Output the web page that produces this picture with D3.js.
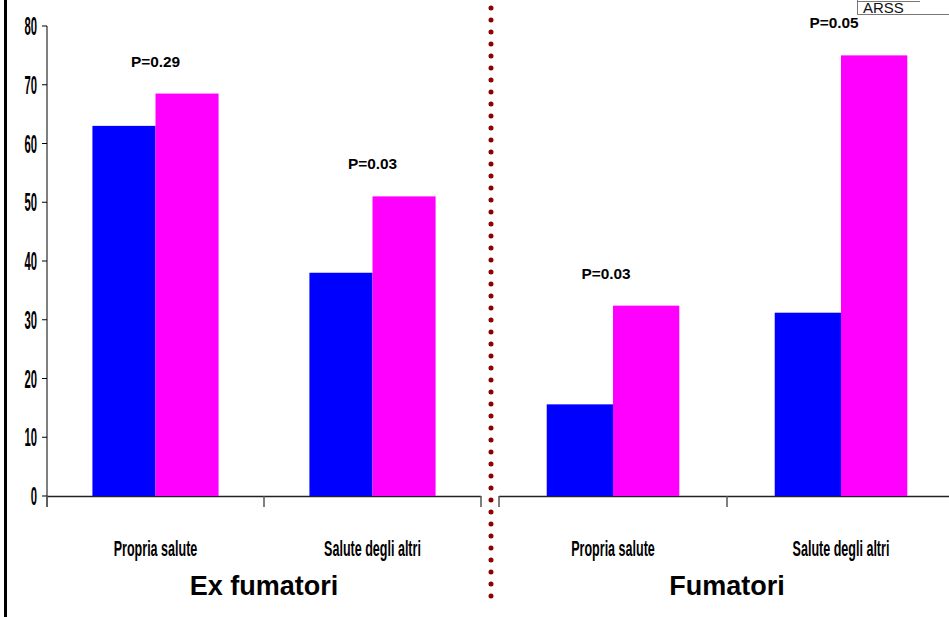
<!DOCTYPE html>
<html>
<head>
<meta charset="utf-8">
<script src="https://cdn.jsdelivr.net/npm/d3@7"></script>
<style>
  body { margin: 0; background: #fff; }
  text { font-family: "Liberation Sans", Arial, sans-serif; }
</style>
</head>
<body>
<div id="chart"></div>
<script>
// data
var groups = ["Ex fumatori", "Fumatori"];
var categories = ["Propria salute", "Salute degli altri"];
var seriesBlue = [[63, 38], [15.6, 31.2]];
var seriesPink = [[68.5, 51], [32.4, 75]];
var pLabels = [["P=0.29", "P=0.03"], ["P=0.03", "P=0.05"]];
var yTicks = [0, 10, 20, 30, 40, 50, 60, 70, 80];

var W = 949, H = 617;
var svg = d3.select('#chart').append('svg')
  .attr('width', W).attr('height', H);

var y = d3.scaleLinear().domain([0, 80]).range([496, 26]);

// squeezed bold text (Arial Narrow look)
function narrowText(parent, tx, ty, size, sx, anchor, str) {
  parent.append('text')
    .attr('transform', 'translate(' + tx + ',' + ty + ') scale(' + sx + ',1)')
    .attr('text-anchor', anchor)
    .attr('font-weight', 'bold')
    .attr('font-size', size + 'px')
    .text(str);
}

// left frame line
svg.append('line')
  .attr('x1', 5.5).attr('x2', 5.5).attr('y1', 0).attr('y2', H)
  .attr('stroke', '#000').attr('stroke-width', 3);

// y axis
var yAxis = svg.append('g').attr('transform', 'translate(47,0)');
yAxis.append('line')
  .attr('x1', 0).attr('x2', 0).attr('y1', y(80)).attr('y2', y(0) + 11)
  .attr('stroke', '#000');
yTicks.forEach(function (t) {
  yAxis.append('line')
    .attr('x1', -5).attr('x2', 0).attr('y1', y(t)).attr('y2', y(t))
    .attr('stroke', '#000');
  narrowText(yAxis, -10, y(t) + 9, 25, 0.45, 'end', t);
});

var panels = [[47, 481], [499, 955]];
var colors = ['#0000ff', '#ff00ff'];

for (var g = 0; g < groups.length; g++) {
  var x = d3.scaleBand().domain(categories).range(panels[g]);
  var sub = d3.scaleBand().domain([0, 1]).range([0, x.bandwidth()]).paddingOuter(0.72).paddingInner(0);

  // baseline
  svg.append('line')
    .attr('x1', panels[g][0]).attr('x2', Math.min(panels[g][1], W))
    .attr('y1', y(0) + 0.5).attr('y2', y(0) + 0.5)
    .attr('stroke', '#222').attr('stroke-width', 1.5);
  var tickXs = [panels[g][0], panels[g][0] + x.bandwidth()];
  if (g == 0) tickXs.push(panels[g][1]);
  tickXs.forEach(function (tx) {
    svg.append('line')
      .attr('x1', tx).attr('x2', tx).attr('y1', y(0)).attr('y2', y(0) + 11)
      .attr('stroke', '#555').attr('stroke-width', 1.5);
  });

  for (var c = 0; c < categories.length; c++) {
    var x0 = x(categories[c]);
    var vals = [seriesBlue[g][c], seriesPink[g][c]];
    vals.forEach(function (v, i) {
      svg.append('rect')
        .attr('x', x0 + sub(i)).attr('y', y(v))
        .attr('width', sub.bandwidth()).attr('height', y(0) - y(v))
        .attr('fill', colors[i]);
    });
    svg.append('text')
      .attr('transform', 'translate(' + (x0 + x.bandwidth() / 2 - (g == 1 ? 7 : 0)) + ',' + (y(seriesPink[g][c]) - 27) + ') scale(1.1,1)')
      .attr('text-anchor', 'middle')
      .attr('font-weight', 'bold')
      .attr('font-size', '14px')
      .text(pLabels[g][c]);
    narrowText(svg, x0 + x.bandwidth() / 2, 556, 22, 0.57, 'middle', categories[c]);
  }

  svg.append('text')
    .attr('x', g == 0 ? 264 : 727)
    .attr('y', 595)
    .attr('text-anchor', 'middle')
    .attr('font-weight', 'bold')
    .attr('font-size', '27px')
    .text(groups[g]);
}

// dotted divider
svg.append('line')
  .attr('x1', 491).attr('x2', 491).attr('y1', 8).attr('y2', 604)
  .attr('stroke', '#8b0000').attr('stroke-width', 5)
  .attr('stroke-linecap', 'round')
  .attr('stroke-dasharray', '0 12');

// ARSS box
var box = svg.append('g');
box.append('line').attr('x1', 857.5).attr('x2', 857.5).attr('y1', 0).attr('y2', 14.5).attr('stroke', '#777');
box.append('line').attr('x1', 857.5).attr('x2', W).attr('y1', 14.5).attr('y2', 14.5).attr('stroke', '#777');
box.append('line').attr('x1', 857.5).attr('x2', 920).attr('y1', 1.5).attr('y2', 1.5).attr('stroke', '#777');
box.append('text')
  .attr('x', 863).attr('y', 13)
  .attr('font-size', '15px')
  .attr('fill', '#111')
  .text('ARSS');
</script>
</body>
</html>
